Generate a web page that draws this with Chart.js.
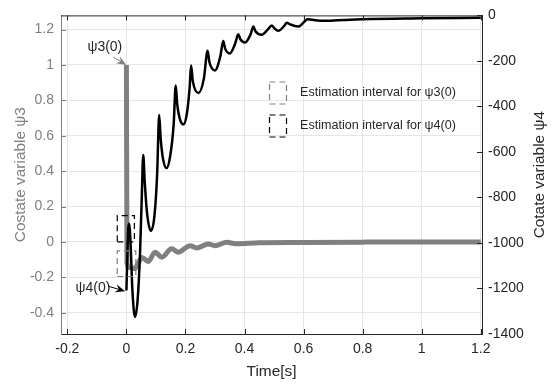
<!DOCTYPE html>
<html>
<head>
<meta charset="utf-8">
<script src="https://cdn.jsdelivr.net/npm/chart.js@4.4.0/dist/chart.umd.min.js"></script>
<style>
  html, body { margin: 0; padding: 0; background: #fff; }
  #wrap { width: 556px; height: 386px; }
</style>
</head>
<body>
<div id="wrap"><canvas id="chart" width="556" height="386"></canvas></div>
<script>
// costate psi3 (left axis, gray)
const time3 = [0, 0.002, 0.012, 0.028, 0.04, 0.052, 0.074, 0.097, 0.12, 0.153, 0.176, 0.215, 0.238, 0.277, 0.30, 0.34, 0.37, 0.45, 0.6, 0.8, 1.0, 1.2];
const psi3 = [1.0, -0.12, -0.145, -0.15, -0.12, -0.088, -0.11, -0.058, -0.086, -0.039, -0.058, -0.021, -0.034, -0.011, -0.021, -0.002, -0.01, -0.005, -0.003, -0.001, 0, 0];

// costate psi4 (right axis, black)
const time4 = [0, 0.006, 0.009, 0.014, 0.02, 0.029, 0.038, 0.046, 0.052, 0.057, 0.062, 0.07, 0.083, 0.095, 0.104, 0.111, 0.116, 0.124, 0.136, 0.148, 0.16, 0.167, 0.172, 0.18, 0.193, 0.205, 0.214, 0.219, 0.225, 0.244, 0.262, 0.275, 0.281, 0.3, 0.318, 0.328, 0.334, 0.35, 0.368, 0.379, 0.386, 0.402, 0.42, 0.43, 0.437, 0.458, 0.48, 0.492, 0.5, 0.514, 0.535, 0.543, 0.555, 0.582, 0.605, 0.613, 0.656, 0.8, 1.0, 1.2];
const psi4 = [-1209, -940, -915, -1000, -1200, -1325, -1250, -1050, -800, -613, -730, -870, -947, -880, -700, -438, -540, -630, -671, -620, -480, -308, -390, -450, -479, -430, -320, -220, -290, -341, -280, -155, -205, -242, -180, -112, -145, -167, -125, -83, -105, -119, -85, -49, -70, -85, -60, -44, -55, -68, -45, -32, -40, -49, -25, -17, -24, -17, -13, -10];

// estimation intervals [t0, t1] x [v0, v1]
const box3Time = [-0.031, 0.032];
const box3Val = [-0.195, -0.05];
const box4Time = [-0.031, 0.027];
const box4Val = [-995, -880];

const xTicks = [-0.2, 0, 0.2, 0.4, 0.6, 0.8, 1, 1.2];
const leftTicks = [-0.4, -0.2, 0, 0.2, 0.4, 0.6, 0.8, 1, 1.2];
const rightTicks = [-1400, -1200, -1000, -800, -600, -400, -200, 0];

const legendLabels = ['Estimation interval for \u03c83(0)', 'Estimation interval for \u03c84(0)'];

const FONT = '"Liberation Sans", Arial, sans-serif';
const GRAY = '#808080';
const DARK = '#262626';

const pts = (xs, ys) => xs.map((x, i) => ({ x: x, y: ys[i] }));
const rect = (ts, vs) => [
  { x: ts[0], y: vs[0] }, { x: ts[1], y: vs[0] }, { x: ts[1], y: vs[1] },
  { x: ts[0], y: vs[1] }, { x: ts[0], y: vs[0] }
];

function arrow(ctx, x0, y0, x1, y1, color) {
  const a = Math.atan2(y1 - y0, x1 - x0);
  const len = 10, half = 4;
  ctx.save();
  ctx.strokeStyle = color;
  ctx.fillStyle = color;
  ctx.lineWidth = 1;
  ctx.beginPath();
  ctx.moveTo(x0, y0);
  ctx.lineTo(x1 - Math.cos(a) * 6, y1 - Math.sin(a) * 6);
  ctx.stroke();
  ctx.translate(x1, y1);
  ctx.rotate(a);
  ctx.beginPath();
  ctx.moveTo(0, 0);
  ctx.lineTo(-len, -half);
  ctx.lineTo(-len * 0.65, 0);
  ctx.lineTo(-len, half);
  ctx.closePath();
  ctx.fill();
  ctx.restore();
}

// axes box, inward ticks, annotations, legend, right title
const decor = {
  id: 'decor',
  afterDraw(chart) {
    const ctx = chart.ctx;
    const { left, right, top, bottom } = chart.chartArea;
    const sx = chart.scales.x, sl = chart.scales.y, sr = chart.scales.y1;
    ctx.save();
    ctx.lineWidth = 1;

    // top border
    ctx.strokeStyle = DARK;
    ctx.beginPath();
    ctx.moveTo(left, top + 0.5);
    ctx.lineTo(right, top + 0.5);
    ctx.stroke();

    // x ticks, bottom and top
    ctx.beginPath();
    xTicks.forEach(v => {
      const px = Math.round(sx.getPixelForValue(v)) + 0.5;
      ctx.moveTo(px, bottom);
      ctx.lineTo(px, bottom - 5);
      ctx.moveTo(px, top);
      ctx.lineTo(px, top + 5);
    });
    ctx.stroke();

    // left ticks
    ctx.strokeStyle = GRAY;
    ctx.beginPath();
    leftTicks.forEach(v => {
      const py = Math.round(sl.getPixelForValue(v)) + 0.5;
      ctx.moveTo(left, py);
      ctx.lineTo(left + 5, py);
    });
    ctx.stroke();

    // right ticks
    ctx.strokeStyle = DARK;
    ctx.beginPath();
    rightTicks.forEach(v => {
      const py = Math.round(sr.getPixelForValue(v)) + 0.5;
      ctx.moveTo(right, py);
      ctx.lineTo(right - 5, py);
    });
    ctx.stroke();

    // annotations
    ctx.font = '14px ' + FONT;
    ctx.textBaseline = 'middle';
    ctx.textAlign = 'right';
    ctx.fillStyle = DARK;
    ctx.fillText('\u03c83(0)', sx.getPixelForValue(-0.014), sl.getPixelForValue(1.10));
    arrow(ctx, sx.getPixelForValue(-0.045), sl.getPixelForValue(1.045),
      sx.getPixelForValue(time3[0]), sl.getPixelForValue(psi3[0]), GRAY);
    ctx.fillText('\u03c84(0)', sx.getPixelForValue(-0.054), sr.getPixelForValue(-1200));
    arrow(ctx, sx.getPixelForValue(-0.062), sr.getPixelForValue(-1190),
      sx.getPixelForValue(-0.004), sr.getPixelForValue(-1212), '#000');

    // legend
    const legColors = [GRAY, '#000'];
    ctx.font = '12.6px ' + FONT;
    ctx.textAlign = 'left';
    legendLabels.forEach((txt, i) => {
      const cy = 93 + i * 33;
      ctx.save();
      ctx.strokeStyle = legColors[i];
      ctx.lineWidth = 1.2;
      ctx.setLineDash([6, 4]);
      ctx.strokeRect(269.5, cy - 11, 17, 22);
      ctx.restore();
      ctx.fillStyle = DARK;
      ctx.fillText(txt, 300, cy);
    });

    // right axis title (reads bottom to top)
    ctx.save();
    ctx.translate(540, (top + bottom) / 2);
    ctx.rotate(-Math.PI / 2);
    ctx.textAlign = 'center';
    ctx.textBaseline = 'middle';
    ctx.font = '15.4px ' + FONT;
    ctx.fillStyle = DARK;
    ctx.fillText('Cotate variable \u03c84', 0, 0);
    ctx.restore();

    ctx.restore();
  }
};

new Chart(document.getElementById('chart').getContext('2d'), {
  type: 'line',
  data: {
    datasets: [
      {
        data: pts(time4, psi4),
        yAxisID: 'y1',
        borderColor: '#000',
        borderWidth: 2.5,
        cubicInterpolationMode: 'monotone',
        pointRadius: 0,
        order: 1
      },
      {
        data: pts(time3, psi3),
        yAxisID: 'y',
        borderColor: GRAY,
        borderWidth: 5,
        cubicInterpolationMode: 'monotone',
        borderJoinStyle: 'round',
        pointRadius: 0,
        order: 2
      },
      {
        data: rect(box4Time, box4Val),
        yAxisID: 'y1',
        borderColor: '#000',
        borderWidth: 1.2,
        borderDash: [6, 4],
        tension: 0,
        pointRadius: 0,
        order: 0
      },
      {
        data: rect(box3Time, box3Val),
        yAxisID: 'y',
        borderColor: GRAY,
        borderWidth: 1.2,
        borderDash: [6, 4],
        tension: 0,
        pointRadius: 0,
        order: 0
      }
    ]
  },
  options: {
    responsive: false,
    animation: false,
    devicePixelRatio: 1,
    layout: { padding: { top: 13, left: 0, right: 0, bottom: 0 } },
    plugins: {
      legend: { display: false },
      tooltip: { enabled: false }
    },
    scales: {
      x: {
        type: 'linear',
        min: -0.2215,
        max: 1.2042,
        afterBuildTicks: s => { s.ticks = xTicks.map(v => ({ value: v })); },
        afterFit: s => { s.height = 52; },
        ticks: { color: DARK, font: { family: FONT, size: 14 }, padding: 7, maxRotation: 0, callback: v => String(v) },
        grid: { color: '#e6e6e6', drawTicks: false },
        border: { display: true, color: DARK, width: 1 },
        title: { display: true, text: 'Time[s]', color: DARK, font: { family: FONT, size: 15.4 }, padding: { top: 0, bottom: 5 } }
      },
      y: {
        position: 'left',
        min: -0.52,
        max: 1.28,
        afterBuildTicks: s => { s.ticks = leftTicks.map(v => ({ value: v })); },
        afterFit: s => { s.width = 61; },
        ticks: { color: GRAY, font: { family: FONT, size: 14 }, padding: 7, callback: v => String(v) },
        grid: { color: '#e6e6e6', drawTicks: false },
        border: { display: true, color: GRAY, width: 1 },
        title: { display: true, text: 'Costate variable \u03c83', color: GRAY, font: { family: FONT, size: 15.4 }, padding: { top: 12, bottom: 0 } }
      },
      y1: {
        position: 'right',
        min: -1400,
        max: 0,
        afterBuildTicks: s => { s.ticks = rightTicks.map(v => ({ value: v })); },
        afterFit: s => { s.width = 74; },
        ticks: { color: DARK, font: { family: FONT, size: 14 }, padding: 6, callback: v => String(v) },
        grid: { display: false, drawTicks: false },
        border: { display: true, color: DARK, width: 1 }
      }
    }
  },
  plugins: [decor]
});
</script>
</body>
</html>
